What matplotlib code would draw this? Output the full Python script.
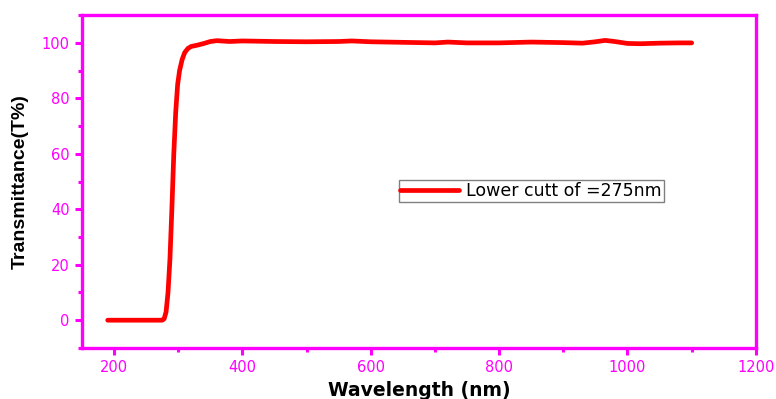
import numpy as np
import matplotlib.pyplot as plt
from matplotlib.ticker import MultipleLocator

# transmittance spectrum
wavelength = [190, 275, 278, 281, 284, 287, 290, 293, 296, 299, 302, 306, 310, 315, 320,
              330, 340, 350, 360, 380, 400, 450, 500, 550, 570, 600, 650, 700, 720,
              750, 800, 850, 900, 930, 950, 965, 980, 1000, 1020, 1050, 1080, 1100]
transmittance = [0, 0, 0.5, 3, 10, 22, 40, 60, 75, 85, 90, 94, 96.5, 98, 98.7,
                 99.2, 99.8, 100.5, 100.8, 100.5, 100.7, 100.5, 100.4, 100.5, 100.7, 100.4, 100.2, 100.0, 100.3,
                 100.0, 100.0, 100.3, 100.1, 99.9, 100.4, 100.9, 100.5, 99.8, 99.7, 99.9, 100.0, 100.0]
legend_label = 'Lower cutt of =275nm'

mag = '#ff00ff'
plt.rcParams['font.family'] = ['DejaVu Sans']

fig = plt.figure(figsize=(7.76, 3.99), dpi=100)
ax = fig.add_axes([0.1057, 0.128, 0.974 - 0.1057, 0.962 - 0.128])

ax.plot(wavelength, transmittance, color='red', lw=3.4, label=legend_label,
        solid_capstyle='round', solid_joinstyle='round')

ax.set_xlim(150, 1200)
ax.set_ylim(-10, 110)
ax.xaxis.set_major_locator(MultipleLocator(200))
ax.xaxis.set_minor_locator(MultipleLocator(100))
ax.yaxis.set_major_locator(MultipleLocator(20))
ax.yaxis.set_minor_locator(MultipleLocator(10))

for s in ax.spines.values():
    s.set_color(mag)
    s.set_linewidth(2.4)
ax.tick_params(which='major', direction='out', length=5, width=2.2, color=mag,
               labelcolor=mag, labelsize=10.5, pad=4)
ax.tick_params(which='minor', direction='out', length=3, width=2.2, color=mag)

ax.set_xlabel('Wavelength (nm)', fontsize=13.5, fontweight='bold', labelpad=4)
ax.set_ylabel('Transmittance(T%)', fontsize=14, fontweight='bold',
              family=['Liberation Sans Narrow', 'Liberation Sans'], labelpad=9)

leg = ax.legend(loc='lower left', bbox_to_anchor=(0.47, 0.44), fontsize=12.5,
                fancybox=False, framealpha=1, edgecolor='gray', handlelength=3.4,
                borderpad=0.1, handletextpad=0.4, borderaxespad=0)
leg.get_frame().set_linewidth(1.0)

fig.savefig('out.png', dpi=100)
